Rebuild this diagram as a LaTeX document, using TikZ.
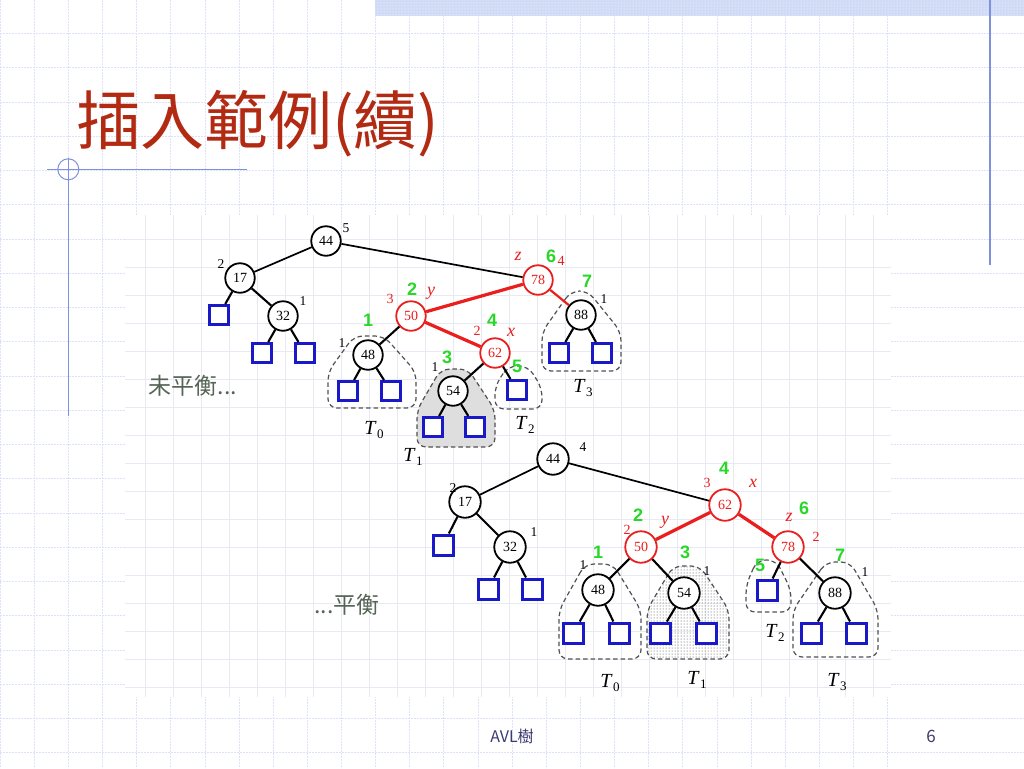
\documentclass[tikz,border=0pt]{standalone}
\usepackage{fontspec}
\setmainfont{Liberation Serif}
\newfontfamily\cjkfont{Noto Sans CJK TC}
\newfontfamily\arialfont{Liberation Sans}
\usetikzlibrary{patterns}
\definecolor{myred}{RGB}{235,30,30}
\definecolor{mygreen}{RGB}{40,215,40}
\definecolor{myblue}{RGB}{25,25,200}
\definecolor{titlered}{RGB}{178,42,18}
\definecolor{foottext}{RGB}{60,60,110}
\definecolor{slideline}{RGB}{125,145,220}
\definecolor{gridcol}{RGB}{222,226,248}
\definecolor{innergrid}{RGB}{232,234,243}
\definecolor{bandcol}{RGB}{208,218,246}
\definecolor{notecol}{RGB}{85,100,85}
\newcommand{\Tsub}[1]{\textit{T}\kern0.3pt\raisebox{-0.4ex}{\fontsize{13}{14}\selectfont #1}}
\begin{document}
\begin{tikzpicture}[x=1pt,y=-1pt,
  gridline/.style={draw=gridcol, line width=0.8pt, dash pattern=on 2pt off 1pt},
  ingrid/.style={draw=innergrid, line width=0.6pt},
  bnode/.style={circle, draw=black, line width=1.8pt, minimum size=29.5pt, inner sep=0pt, fill=white, font=\fontsize{14}{14}\selectfont},
  bnodeB/.style={bnode, minimum size=31.5pt},
  rnode/.style={bnode, draw=myred, text=myred},
  rnodeB/.style={bnodeB, draw=myred, text=myred},
  leaf/.style={rectangle, draw=myblue, line width=3pt, minimum size=19pt, inner sep=0pt, fill=white},
  leafB/.style={leaf, minimum size=20pt},
  bedge/.style={line width=2.1pt, black},
  tedge/.style={line width=1.7pt, black},
  redge/.style={line width=3.2pt, myred},
  hlab/.style={inner sep=0pt, font=\fontsize{13.5}{13.5}\selectfont},
  rlab/.style={inner sep=0pt, text=myred, font=\fontsize{14}{14}\selectfont},
  rit/.style={inner sep=0pt, text=myred, font=\fontsize{18}{18}\selectfont\itshape},
  glab/.style={inner sep=0pt, text=mygreen, font=\arialfont\bfseries\fontsize{18}{18}\selectfont},
  tlab/.style={inner sep=0pt, font=\fontsize{20}{20}\selectfont},
  outl/.style={draw=black!68, line width=1.2pt, dash pattern=on 4.5pt off 3pt, rounded corners=9pt}
]
\useasboundingbox (0,0) rectangle (1024,768);
\fill[white] (0,0) rectangle (1024,768);
% slide grid
\foreach \k in {0,...,26} { \draw[gridline] (0.2+34.13*\k,0) -- (0.2+34.13*\k,768); }
\foreach \k in {0,...,22} { \draw[gridline] (0,33.5+34.25*\k) -- (1024,33.5+34.25*\k); }
% top band
\fill[bandcol] (375,0) rectangle (1024,16.5);
\fill[pattern=dots, pattern color=white] (375,0) rectangle (1024,16.5);
% slide decoration lines
\draw[slideline, line width=1.2pt] (990,0) -- (990,265);
\draw[slideline, line width=1.1pt] (47,169.3) -- (246.7,169.3);
\draw[slideline, line width=1.1pt] (68.3,158) -- (68.3,416);
\draw[slideline, line width=1pt] (68.3,169.3) circle[radius=10.5];
% title
\node[anchor=west, inner sep=0pt, text=titlered, font=\cjkfont\fontsize{64}{66}\selectfont] (title) at (76,124) {插入範例(續)};
% embedded picture area
\fill[white] (125,215) rectangle (891,697);
\foreach \k in {0,...,26} { \draw[ingrid] (145+28*\k,215) -- (145+28*\k,697); }
\foreach \k in {-7,...,9} { \draw[ingrid] (125,435+28*\k) -- (891,435+28*\k); }
% ---------- subtree outlines (top) ----------
\draw[outl] (354,336) -- (328,372) -- (328,408) -- (416,408) -- (416,372) -- (384,336) -- cycle;
\draw[outl, fill=black!13] (441,369) -- (417,410) -- (417,447) -- (495,447) -- (495,410) -- (468,369) -- cycle;
\draw[outl] (508,366) -- (495,386) -- (495,409) -- (542,409) -- (542,388) -- (528,366) -- cycle;
\draw[outl] (571,291) -- (542,332) -- (542,371) -- (621,371) -- (621,332) -- (588,291) -- cycle;
% ---------- subtree outlines (bottom) ----------
\draw[outl] (585,564) -- (559,610) -- (559,659) -- (641,659) -- (641,610) -- (613,564) -- cycle;
\fill[pattern=dots, pattern color=black!75, rounded corners=9pt] (673,566) -- (647,610) -- (647,659) -- (729,659) -- (729,610) -- (700,566) -- cycle;
\draw[outl] (673,566) -- (647,610) -- (647,659) -- (729,659) -- (729,610) -- (700,566) -- cycle;
\draw[outl] (757,560) -- (746,585) -- (746,612) -- (791,612) -- (791,590) -- (776,560) -- cycle;
\draw[outl] (826,562) -- (793,610) -- (793,657) -- (878,657) -- (878,610) -- (850,562) -- cycle;
% ---------- top tree ----------
\node[bnode] (t44) at (326,241) {44};
\node[bnode] (t17) at (240,278) {17};
\node[bnode] (t32) at (283,316) {32};
\node[rnode] (t78) at (538,280) {78};
\node[rnode] (t50) at (411,316) {50};
\node[rnode] (t62) at (495,353) {62};
\node[bnode] (t48) at (368,355) {48};
\node[bnode] (t54) at (453,391) {54};
\node[bnode] (t88) at (581,315) {88};
\node[leaf] (tl1) at (219,315) {};
\node[leaf] (tl2) at (262,353) {};
\node[leaf] (tl3) at (305,353) {};
\node[leaf] (tl4) at (348,391) {};
\node[leaf] (tl5) at (391,391) {};
\node[leaf] (tl6) at (433,427) {};
\node[leaf] (tl7) at (475,427) {};
\node[leaf] (tl8) at (517,390) {};
\node[leaf] (tl9) at (559,353) {};
\node[leaf] (tl10) at (602,353) {};
\draw[tedge] (t44) -- (t17);
\draw[tedge] (t44) -- (t78);
\draw[bedge] (t17) -- (tl1);
\draw[bedge] (t17) -- (t32);
\draw[bedge] (t32) -- (tl2);
\draw[bedge] (t32) -- (tl3);
\draw[redge] (t78) -- (t50);
\draw[line width=2.2pt, myred] (t78) -- (t88);
\draw[bedge] (t50) -- (t48);
\draw[redge] (t50) -- (t62);
\draw[bedge] (t48) -- (tl4);
\draw[bedge] (t48) -- (tl5);
\draw[bedge] (t62) -- (t54);
\draw[bedge] (t62) -- (tl8);
\draw[bedge] (t54) -- (tl6);
\draw[bedge] (t54) -- (tl7);
\draw[bedge] (t88) -- (tl9);
\draw[bedge] (t88) -- (tl10);
% top labels
\node[hlab] (ta1) at (346,228) {5};
\node[hlab] (ta2) at (221,264) {2};
\node[hlab] (ta3) at (303,301) {1};
\node[rit] (ta4) at (518,256) {z};
\node[glab] (ta5) at (551,256) {6};
\node[rlab] (ta6) at (561,261) {4};
\node[glab] (ta7) at (587,281) {7};
\node[hlab] (ta8) at (604,299) {1};
\node[rlab] (ta9) at (390,299) {3};
\node[glab] (ta10) at (412,289) {2};
\node[rit] (ta11) at (431,293) {y};
\node[hlab] (ta12) at (342,343) {1};
\node[glab] (ta13) at (368,320) {1};
\node[rlab] (ta14) at (477,331) {2};
\node[glab] (ta15) at (492,320) {4};
\node[rit] (ta16) at (511,332) {x};
\node[hlab] (ta17) at (435,367) {1};
\node[glab] (ta18) at (447,357) {3};
\node[glab] (ta19) at (517,366) {5};
\node[tlab] (tT0) at (374,430) {\Tsub{0}};
\node[tlab] (tT1) at (413,457) {\Tsub{1}};
\node[tlab] (tT2) at (525,425) {\Tsub{2}};
\node[tlab] (tT3) at (583,388) {\Tsub{3}};
\node[inner sep=0pt, text=notecol, font=\cjkfont\fontsize{23}{24}\selectfont] (note1) at (193,386) {未平衡...};
% ---------- bottom tree ----------
\node[bnodeB] (b44) at (553,459) {44};
\node[bnodeB] (b17) at (465,502) {17};
\node[bnodeB] (b32) at (510,547) {32};
\node[rnodeB] (b62) at (725,505) {62};
\node[rnodeB] (b50) at (641,547) {50};
\node[rnodeB] (b78) at (788,547) {78};
\node[bnodeB] (b48) at (598,590) {48};
\node[bnodeB] (b54) at (684,593) {54};
\node[bnodeB] (b88) at (835,593) {88};
\node[leafB] (bl1) at (443,545) {};
\node[leafB] (bl2) at (488,589) {};
\node[leafB] (bl3) at (532,589) {};
\node[leafB] (bl4) at (573,633) {};
\node[leafB] (bl5) at (619,633) {};
\node[leafB] (bl6) at (660,633) {};
\node[leafB] (bl7) at (706,633) {};
\node[leafB] (bl8) at (767,590) {};
\node[leafB] (bl9) at (811,633) {};
\node[leafB] (bl10) at (856,633) {};
\draw[tedge] (b44) -- (b17);
\draw[tedge] (b44) -- (b62);
\draw[bedge] (b17) -- (bl1);
\draw[bedge] (b17) -- (b32);
\draw[bedge] (b32) -- (bl2);
\draw[bedge] (b32) -- (bl3);
\draw[redge] (b62) -- (b50);
\draw[redge] (b62) -- (b78);
\draw[bedge] (b50) -- (b48);
\draw[bedge] (b50) -- (b54);
\draw[bedge] (b48) -- (bl4);
\draw[bedge] (b48) -- (bl5);
\draw[bedge] (b54) -- (bl6);
\draw[bedge] (b54) -- (bl7);
\draw[bedge] (b78) -- (bl8);
\draw[bedge] (b78) -- (b88);
\draw[bedge] (b88) -- (bl9);
\draw[bedge] (b88) -- (bl10);
% bottom labels
\node[hlab] (ba1) at (583,447) {4};
\node[hlab] (ba2) at (453,488) {2};
\node[hlab] (ba3) at (534,532) {1};
\node[glab] (ba4) at (724,468) {4};
\node[rlab] (ba5) at (707,483) {3};
\node[rit] (ba6) at (753,483) {x};
\node[rlab] (ba7) at (627,530) {2};
\node[glab] (ba8) at (638,515) {2};
\node[rit] (ba9) at (665,522) {y};
\node[hlab] (ba10) at (583,565) {1};
\node[glab] (ba11) at (598,552) {1};
\node[glab] (ba12) at (685,552) {3};
\node[hlab] (ba13) at (707,571) {1};
\node[rit] (ba14) at (789,517) {z};
\node[glab] (ba15) at (804,508) {6};
\node[rlab] (ba16) at (816,537) {2};
\node[glab] (ba17) at (760,565) {5};
\node[glab] (ba18) at (840,555) {7};
\node[hlab] (ba19) at (865,572) {1};
\node[tlab] (bT0) at (610,683) {\Tsub{0}};
\node[tlab] (bT1) at (697,680) {\Tsub{1}};
\node[tlab] (bT2) at (775,633) {\Tsub{2}};
\node[tlab] (bT3) at (837,682) {\Tsub{3}};
\node[inner sep=0pt, text=notecol, font=\cjkfont\fontsize{23}{24}\selectfont] (note2) at (347,605) {...平衡};
% footer
\node[inner sep=0pt, text=foottext, font=\cjkfont\fontsize{16}{16}\selectfont] (foot) at (512,736) {AVL樹};
\node[inner sep=0pt, text=foottext, font=\cjkfont\fontsize{17}{17}\selectfont] (page) at (931,736) {6};
\end{tikzpicture}
\end{document}
